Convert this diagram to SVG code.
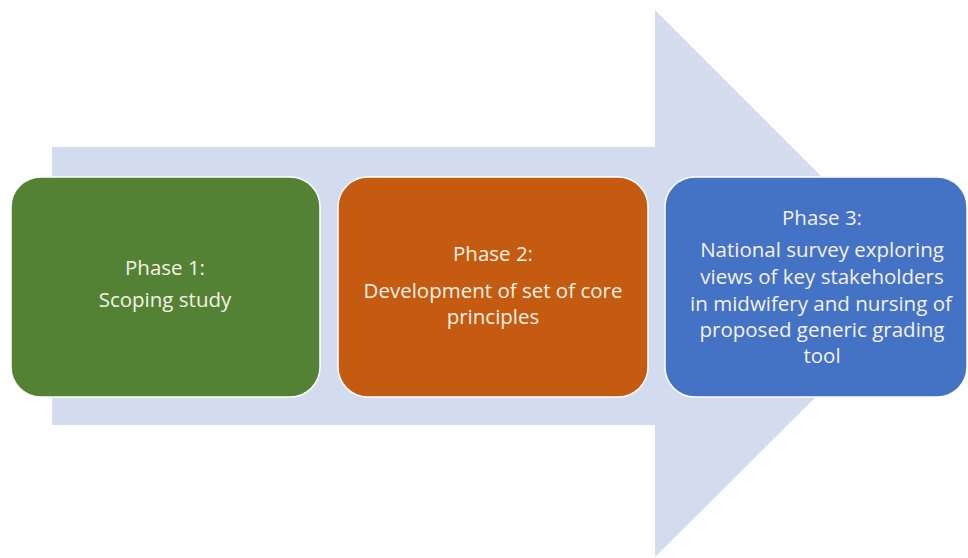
<svg xmlns="http://www.w3.org/2000/svg" width="968" height="558" viewBox="0 0 968 558">
<style>
.box{stroke:#ffffff;stroke-width:1.5}
.t{font-family:"Open Sans","Liberation Sans",sans-serif;font-size:20.5px;fill:#f4f1e6;text-anchor:middle}
</style>
<rect width="968" height="558" fill="#ffffff"/>
<g id="arrow">
<polygon points="52,147 655,147 655,10 929,284 655,557 655,425 52,425" fill="#d2dcee"/>
</g>
<g id="connectors"></g>
<g id="phase1">
<rect class="box" x="11" y="177" width="309" height="220" rx="30" fill="#548235"/>
<text class="t" x="165" y="275">Phase 1:</text>
<text class="t" x="165" y="307">Scoping study</text>
</g>
<g id="phase2">
<rect class="box" x="338" y="177" width="310" height="220" rx="30" fill="#c55a11"/>
<text class="t" x="493" y="261">Phase 2:</text>
<text class="t" x="493" y="298">Development of set of core</text>
<text class="t" x="493" y="324">principles</text>
</g>
<g id="phase3">
<rect class="box" x="665" y="177" width="302" height="220" rx="30" fill="#4472c4"/>
<text class="t" x="822" y="225">Phase 3:</text>
<text class="t" x="822" y="257">National survey exploring</text>
<text class="t" x="822" y="284">views of key stakeholders</text>
<text class="t" x="821" y="311">in midwifery and nursing of</text>
<text class="t" x="822" y="337">proposed generic grading</text>
<text class="t" x="822" y="363">tool</text>
</g>
</svg>
